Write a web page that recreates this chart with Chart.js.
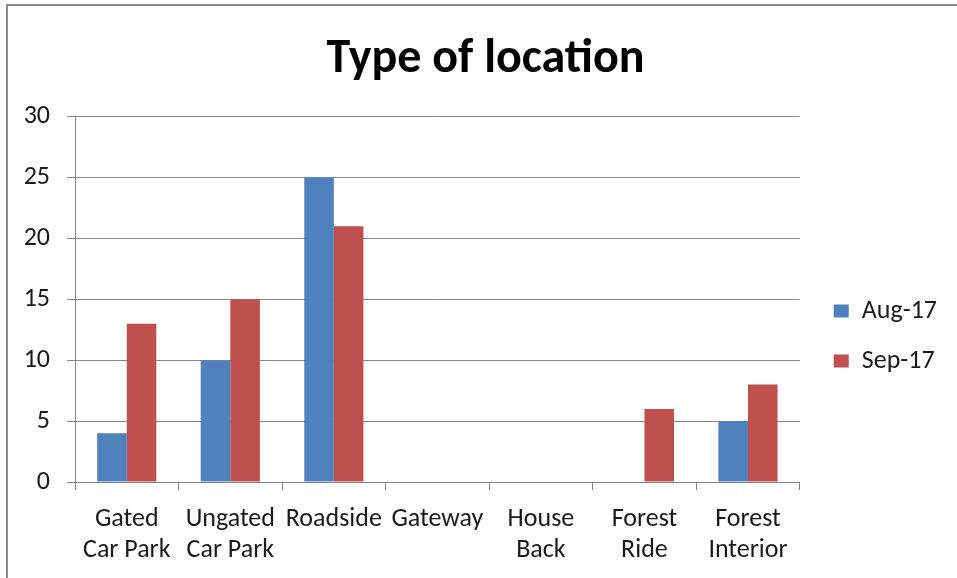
<!DOCTYPE html>
<html lang="en">
<head>
  <meta charset="UTF-8" />
  <title>Type of location</title>
  <script src="https://cdn.jsdelivr.net/npm/chart.js"></script>
  <style>
    body {
      margin: 0;
      background-color: #ffffff;
      width: 957px;
      height: 578px;
      overflow: hidden;
    }

    .frame {
      position: absolute;
      left: 6px;
      top: 4px;
      width: 949px;
      height: 572px;
      border-top: 2px solid #8a8a8a;
      border-left: 2px solid #8a8a8a;
    }
  </style>
</head>
<body>
  <div class="frame">
    <canvas id="locationChart" width="949" height="572"></canvas>
  </div>

  <script>
    const categories = [
      ['Gated', 'Car Park'],
      ['Ungated', 'Car Park'],
      'Roadside',
      'Gateway',
      ['House', 'Back'],
      ['Forest', 'Ride'],
      ['Forest', 'Interior']
    ];
    const seriesNames = ['Aug-17', 'Sep-17'];
    const aug17 = [4, 10, 25, 0, 0, 0, 5];
    const sep17 = [13, 15, 21, 0, 0, 6, 8];
    const yTicks = [0, 5, 10, 15, 20, 25, 30];

    const font = "Carlito, Lato, 'Open Sans', sans-serif";
    const gridColor = '#868686';
    const textColor = '#1a1a1a';

    Chart.defaults.font.family = font;
    Chart.defaults.color = textColor;

    new Chart(document.getElementById('locationChart'), {
      type: 'bar',
      data: {
        labels: categories,
        datasets: [
          { label: seriesNames[0], data: aug17, backgroundColor: '#4f81bd' },
          { label: seriesNames[1], data: sep17, backgroundColor: '#c0504d' }
        ]
      },
      options: {
        responsive: false,
        animation: false,
        categoryPercentage: 2 / 3.5,
        barPercentage: 1,
        layout: { padding: { left: 16, right: 10, top: 0, bottom: 0 } },
        plugins: {
          title: {
            display: true,
            text: 'Type of location',
            color: '#000000',
            font: { size: 48, weight: 'bold', lineHeight: 1.2 },
            padding: { top: 25, bottom: 28 }
          },
          legend: {
            position: 'right',
            align: 'start',
            // blank title used only to push the two entries down
            title: {
              display: true,
              text: ' ',
              font: { size: 10, lineHeight: 1 },
              padding: { top: 0, bottom: 258 }
            },
            labels: {
              boxWidth: 15,
              boxHeight: 13,
              padding: 24,
              color: textColor,
              font: { size: 26, lineHeight: 1.2 }
            }
          },
          tooltip: { enabled: false }
        },
        scales: {
          x: {
            offset: true,
            grid: {
              offset: true,
              drawOnChartArea: false,
              drawTicks: true,
              tickLength: 8,
              color: gridColor
            },
            border: { color: gridColor, width: 1 },
            ticks: {
              padding: 14,
              maxRotation: 0,
              autoSkip: false,
              font: { size: 26, lineHeight: 1.2 }
            },
            afterFit: s => { s.height = 96; }
          },
          y: {
            min: 0,
            max: 30,
            afterBuildTicks: s => { s.ticks = yTicks.map(v => ({ value: v })); },
            grid: {
              color: gridColor,
              drawTicks: true,
              tickLength: 8
            },
            border: { color: gridColor, width: 1 },
            ticks: {
              padding: 17,
              font: { size: 26 }
            },
            afterFit: s => { s.width = 51; }
          },
          gap: {
            type: 'linear',
            position: 'right',
            display: true,
            grid: { display: false, drawTicks: false },
            border: { display: false },
            ticks: { display: false },
            afterFit: s => { s.width = 10; }
          }
        }
      }
    });
  </script>
</body>
</html>
